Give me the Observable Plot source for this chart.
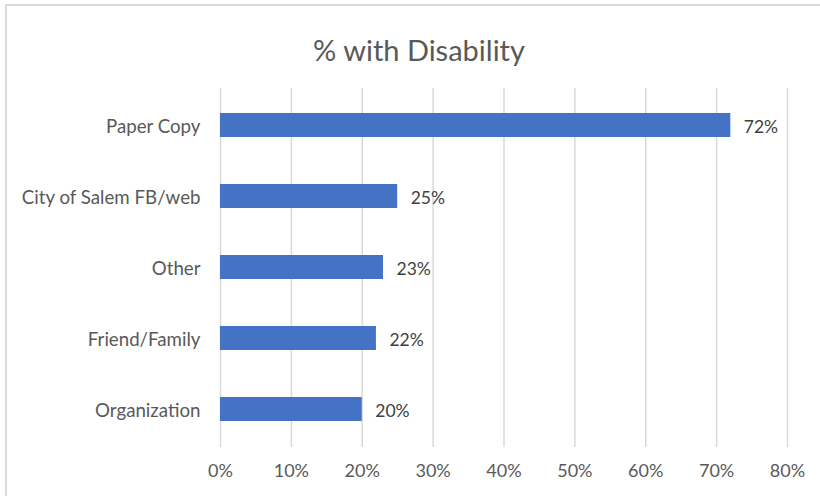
<!DOCTYPE html>
<html>
<head>
<meta charset="utf-8">
<script src="https://cdn.jsdelivr.net/npm/d3@7"></script>
<script src="https://cdn.jsdelivr.net/npm/@observablehq/plot@0.6"></script>
<style>
  html, body { margin: 0; padding: 0; background: #fff; overflow: hidden; }
  #wrap { position: relative; width: 820px; height: 496px; }
  #border { position: absolute; left: 5px; top: 4px; width: 830px; height: 520px;
            border: 2px solid #d9d9d9; box-sizing: border-box; pointer-events: none; }
  #chart { position: absolute; left: 0; top: 0; }
  #chart svg g[aria-label="y-axis tick label"] text { font-size: 18.7px; }
</style>
</head>
<body>
<div id="wrap">
  <div id="border"></div>
  <div id="chart"></div>
</div>
<script>
const categories = ["Paper Copy", "City of Salem FB/web", "Other", "Friend/Family", "Organization"];
const values = [0.72, 0.25, 0.23, 0.22, 0.20];
const xTicks = [0, 0.1, 0.2, 0.3, 0.4, 0.5, 0.6, 0.7, 0.8];
const title = "% with Disability";

const data = categories.map((c, i) => ({category: c, value: values[i]}));
const fontFam = "Lato, 'Open Sans', sans-serif";

const chart = Plot.plot({
  width: 820,
  height: 496,
  marginLeft: 220,
  marginRight: 33,
  marginTop: 88,
  marginBottom: 49,
  style: {fontFamily: fontFam, fontSize: "18px", color: "#595959", background: "transparent"},
  x: {domain: [0, 0.8], ticks: xTicks, tickFormat: d => Math.round(d * 100) + "%", label: null, tickSize: 0, tickPadding: 17},
  y: {domain: categories, label: null, tickSize: 0, tickPadding: 20, paddingInner: 0.66, paddingOuter: 0.33},
  marks: [
    Plot.gridX(xTicks, {stroke: "#d9d9d9", strokeOpacity: 1, strokeWidth: 1.5}),
    Plot.barX(data, {x: "value", y: "category", fill: "#4472c4"}),
    Plot.text(data, {x: "value", y: "category", text: d => Math.round(d.value * 100) + "%", textAnchor: "start", dx: 13, dy: 2, fill: "#404040", fontSize: 17.5}),
    Plot.text([title], {frameAnchor: "top", text: d => d, dy: -48, dx: -85, fontSize: 29, fill: "#595959"}),
    Plot.axisY({tickSize: 0, tickPadding: 20, fontSize: 18.7, dy: 1.5, label: null})
  ]
});
document.getElementById("chart").appendChild(chart);
</script>
</body>
</html>
